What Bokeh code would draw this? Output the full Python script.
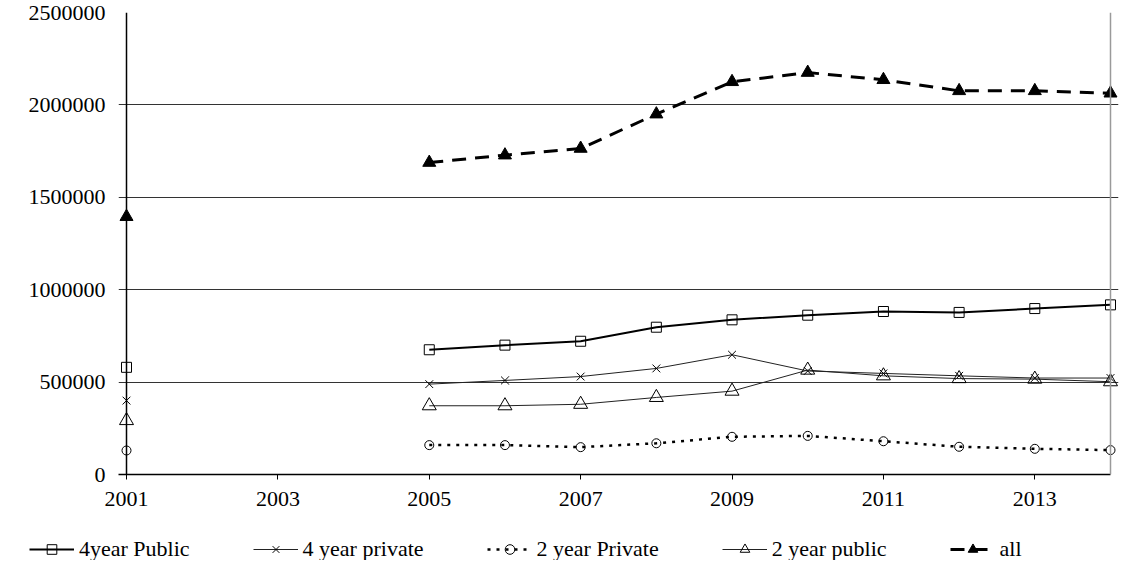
from bokeh.plotting import figure
from bokeh.layouts import column
from bokeh.models import Legend, LegendItem, FixedTicker, BasicTickFormatter, Range1d, Span
from bokeh.embed import file_html
from bokeh.resources import INLINE

years = [2001, 2005, 2006, 2007, 2008, 2009, 2010, 2011, 2012, 2013, 2014]
public4 = [580000, 675000, 700000, 721000, 797000, 837000, 862000, 882000, 877000, 898000, 918000]
private4 = [400000, 489000, 509000, 530000, 574000, 648000, 560000, 547000, 534000, 522000, 522000]
private2 = [130000, 159000, 159000, 148000, 169000, 204000, 209000, 180000, 150000, 139000, 132000]
public2 = [292000, 372000, 372000, 380000, 417000, 451000, 565000, 534000, 519000, 516000, 502000]
all_ = [1395000, 1688000, 1728000, 1764000, 1950000, 2125000, 2175000, 2136000, 2076000, 2076000, 2063000]

names = ["4year Public", "4 year private", "2 year Private", "2 year public", "all"]
x_ticks = [2001, 2003, 2005, 2007, 2009, 2011, 2013]
y_ticks = [0, 500000, 1000000, 1500000, 2000000, 2500000]

FONT = "Liberation Serif"
FS = "22px"

x0, x1 = years[0], years[-1]
pad = 8 * (x1 - x0) / 984.0  # small margin so edge markers are not clipped

p = figure(frame_width=1000, frame_height=462, min_border_left=118, min_border_right=2,
           min_border_top=12, min_border_bottom=50,
           x_range=Range1d(x0 - pad, x1 + pad), y_range=Range1d(0, 2500000),
           output_backend="svg", toolbar_location=None)
p.frame_align = False

p.outline_line_color = None
p.xgrid.grid_line_color = None
p.ygrid.ticker = FixedTicker(ticks=y_ticks)
p.ygrid.grid_line_color = "#333333"
p.ygrid.grid_line_width = 1
p.ygrid.bounds = (x0 - pad, x1)
# y axis line drawn at the first year, right edge line at the last year
p.add_layout(Span(location=x0, dimension="height", line_color="black", line_width=1.5))
p.add_layout(Span(location=x1, dimension="height", line_color="#9a9a9a", line_width=1.5))

p.xaxis.ticker = FixedTicker(ticks=x_ticks)
p.xaxis.bounds = (x0 - pad, x1)
p.yaxis.ticker = FixedTicker(ticks=y_ticks)
p.yaxis.formatter = BasicTickFormatter(use_scientific=False)
for ax in (p.xaxis, p.yaxis):
    ax.axis_line_color = "black"
    ax.axis_line_width = 1.5
    ax.major_tick_line_color = "black"
    ax.major_tick_in = 0
    ax.minor_tick_line_color = None
    ax.major_label_text_font = FONT
    ax.major_label_text_font_size = FS
    ax.major_label_text_color = "black"
p.yaxis.axis_line_color = None
p.yaxis.major_tick_line_color = None
p.yaxis.major_tick_out = 0
p.yaxis.major_label_standoff = 13
p.xaxis.major_tick_out = 5
p.xaxis.major_label_standoff = 12

series = [
    (public4, dict(line_width=2, line_color="black"), dict(marker="square", size=10)),
    (private4, dict(line_width=1, line_color="#222222"), dict(marker="x", size=11)),
    (private2, dict(line_width=2.5, line_color="black", line_dash="3 6"), dict(marker="circle", size=9)),
    (public2, dict(line_width=1, line_color="#222222"), dict(marker="triangle", size=14)),
    (all_, dict(line_width=3, line_color="black", line_dash="14 9"), dict(marker="triangle", size=13)),
]

# legend strip below the chart (its key renderers use the same data, far outside its view)
lg = figure(width=1120, height=36, min_border=0, x_range=Range1d(0, 1), y_range=Range1d(0, 1),
            x_axis_location=None, y_axis_location=None,
            output_backend="svg", toolbar_location=None)
lg.frame_align = False
lg.outline_line_color = None
lg.xgrid.visible = False
lg.ygrid.visible = False

items = []
for i, (vals, lkw, mkw) in enumerate(series):
    filled = names[i] == "all"
    mstyle = dict(line_color="black", line_width=1, fill_color="black" if filled else None, **mkw)
    p.line(years[1:], vals[1:], **lkw)
    p.scatter(years, vals, **mstyle)
    k_line = lg.line(years[1:], vals[1:], **lkw)
    k_mark = lg.scatter(years, vals, **mstyle)
    items.append(LegendItem(label=names[i], renderers=[k_line, k_mark]))

leg = Legend(items=items, location=(29, -2), orientation="horizontal",
             padding=0, margin=0, spacing=63, border_line_color=None, background_fill_alpha=0,
             glyph_width=45, glyph_height=24, label_standoff=5, label_height=24,
             label_text_font=FONT, label_text_font_size=FS, label_text_color="black")
lg.add_layout(leg, "center")

layout = column(p, lg, spacing=0)
open("out.html", "w").write(file_html(layout, INLINE))
